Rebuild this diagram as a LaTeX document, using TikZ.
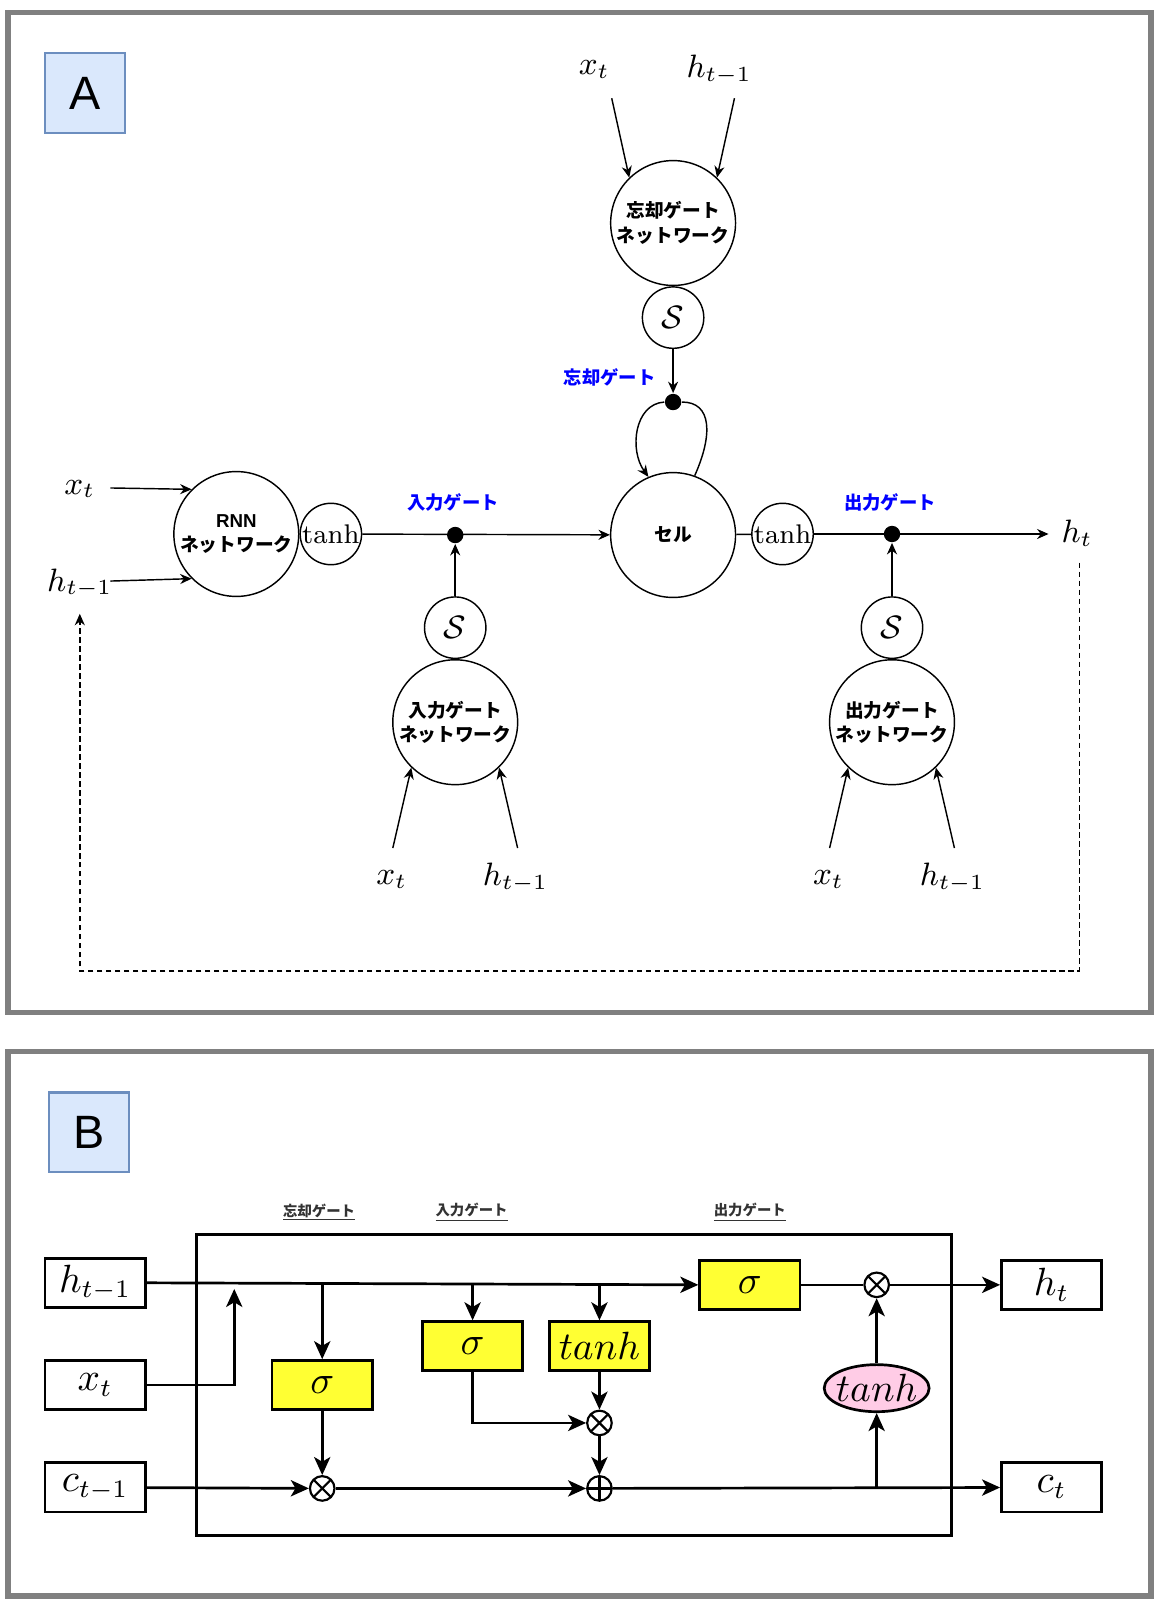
\documentclass[tikz,border=0pt]{standalone}
\usepackage{amsmath}
\usepackage{amssymb}
\usepackage{fontspec}
\setsansfont{Liberation Sans}
\newfontfamily\jpfont{Noto Sans CJK JP}
\usetikzlibrary{positioning, arrows.meta, shapes.geometric}
\definecolor{framegray}{RGB}{128,128,128}
\definecolor{tagfill}{RGB}{218,232,252}
\definecolor{tagline}{RGB}{108,142,191}
\definecolor{gateyellow}{RGB}{255,255,51}
\definecolor{tanhpink}{RGB}{255,204,230}
\definecolor{notegray}{RGB}{51,51,51}
\tikzset{
    x=0.01cm, y=-0.01cm, % one unit is one pixel of the reference
    frame/.style={draw=framegray, line width=1.5pt}, % outer frame of each panel
    tag/.style={draw=tagline, fill=tagfill, line width=0.6pt, minimum size=0.78cm, inner sep=0pt, font=\sffamily\fontsize{13}{15}\selectfont},
    net/.style={circle, draw, thin, minimum size=1.22cm, inner sep=0pt, align=center, font=\jpfont\bfseries\fontsize{5.2}{6.8}\selectfont}, % network circles
    act/.style={circle, draw, thin, minimum size=0.6cm, inner sep=0pt, font=\fontsize{9}{10}\selectfont}, % small activation circles
    junction/.style={circle, fill, minimum size=0.16cm, inner sep=0pt},
    gatename/.style={text=blue, font=\jpfont\bfseries\fontsize{5.1}{6}\selectfont},
    mathA/.style={font=\fontsize{8.8}{10}\selectfont},
    flowA/.style={-{Stealth[length=3.2pt,width=2.8pt]}, thin},
    feedback/.style={flowA, dash pattern=on 1.5pt off 1pt},
    % panel B
    cellbox/.style={draw, line width=0.75pt},
    iobox/.style={draw, line width=0.75pt, minimum width=0.98cm, minimum height=0.48cm, inner sep=0pt, font=\fontsize{10.5}{12}\selectfont},
    gatebox/.style={iobox, fill=gateyellow},
    note/.style={text=notegray, font=\jpfont\bfseries\fontsize{4}{5}\selectfont},
    mulop/.style={circle, draw, line width=0.6pt, minimum size=0.24cm, inner sep=0pt,
        path picture={\draw[line width=0.6pt] (path picture bounding box.south west) -- (path picture bounding box.north east)
            (path picture bounding box.north west) -- (path picture bounding box.south east);}},
    addop/.style={circle, draw, line width=0.6pt, minimum size=0.24cm, inner sep=0pt,
        path picture={\draw[line width=0.6pt] (path picture bounding box.north) -- (path picture bounding box.south)
            (path picture bounding box.west) -- (path picture bounding box.east);}},
    flowB/.style={-{Stealth[length=5pt,width=4.5pt,inset=1.3pt]}, line width=0.75pt},
}

\begin{document}
\begin{tikzpicture}
\useasboundingbox (0,0) rectangle (1136,1568);

% ---------- panel A ----------
\draw[frame] (8,12) rectangle (1125,990);
\node[tag] (tagA) at (83,91) {A};

% forget gate
\node[mathA] (fx) at (581,68) {$x_t$};
\node[mathA] (fh) at (703,68) {$h_{t-1}$};
\node[net] (fnet) at (658,218) {忘却ゲート\\ネットワーク};
\node[act, below=0pt of fnet] (fs) {$\mathcal{S}$};
\node[junction] (fdot) at (658,393) {};
\node[gatename] (fname) at (596,369) {忘却ゲート};
\coordinate (fxa) at (598,96);
\coordinate (fha) at (718,96);
\draw[flowA] (fxa) -- (fnet.134);
\draw[flowA] (fha) -- (fnet.46);
\draw[flowA] (fs) -- (fdot);

% cell
\node[net] (cell) at (658,523) {セル};
\draw[flowA] (fdot.west) .. controls (620,395) and (615,440) .. (cell.113);
\draw[thin] (cell.70) .. controls (697,425) and (696,393) .. (fdot.east);

% RNN network and input gate
\node[mathA] (rx) at (78,478) {$x_t$};
\node[mathA] (rh) at (78,570) {$h_{t-1}$};
\node[net] (rnn) at (231,522) {{\sffamily RNN}\\ネットワーク};
\node[act, right=0pt of rnn, font=\fontsize{7.5}{9}\selectfont] (rtanh) {tanh};
\coordinate (rxa) at (108,477);
\coordinate (rha) at (108,568);
\draw[flowA] (rxa) -- (rnn.135);
\draw[flowA] (rha) -- (rnn.225);
\draw[flowA] (rtanh) -- (cell);
\node[junction] (idot) at (445,523) {};
\node[gatename] (iname) at (443,491) {入力ゲート};
\node[net] (inet) at (445,706) {入力ゲート\\ネットワーク};
\node[act, above=0pt of inet] (is) {$\mathcal{S}$};
\draw[flowA] (is) -- (idot);
\node[mathA] (ix) at (383,860) {$x_t$};
\node[mathA] (ih) at (504,858) {$h_{t-1}$};
\coordinate (ixa) at (384,829);
\coordinate (iha) at (506,829);
\draw[flowA] (ixa) -- (inet.226);
\draw[flowA] (iha) -- (inet.314);

% output gate
\node[act, font=\fontsize{7.5}{9}\selectfont] (ctanh) at (765,522) {tanh};
\draw[thin] (cell) -- (ctanh);
\coordinate (hto) at (1025,522);
\node[mathA] (ht) at (1053,521) {$h_t$};
\draw[flowA] (ctanh) -- (hto);
\node[junction] (odot) at (872,522) {};
\node[gatename] (oname) at (870,491) {出力ゲート};
\node[net] (onet) at (872,706) {出力ゲート\\ネットワーク};
\node[act, above=0pt of onet] (os) {$\mathcal{S}$};
\draw[flowA] (os) -- (odot);
\node[mathA] (ox) at (810,860) {$x_t$};
\node[mathA] (oh) at (931,858) {$h_{t-1}$};
\coordinate (oxa) at (811,829);
\coordinate (oha) at (933,829);
\draw[flowA] (oxa) -- (onet.226);
\draw[flowA] (oha) -- (onet.314);

% feedback of h_t
\coordinate (fbs) at (1055,550);
\coordinate (fbc) at (1055,949);
\coordinate (fbe) at (78,600);
\draw[feedback] (fbs) -- (fbc) -| (fbe);

% ---------- panel B ----------
\draw[frame] (8,1028) rectangle (1125,1560);
\node[tag] (tagB) at (87,1107) {B};
\draw[cellbox] (192,1207) rectangle (930,1501);
\node[note] (nf) at (312,1185) {\underline{忘却ゲート}};
\node[note] (ni) at (461,1185) {\underline{入力ゲート}};
\node[note] (no) at (733,1185) {\underline{出力ゲート}};

\node[iobox] (hin) at (93,1254) {$h_{t-1}$};
\node[iobox] (xin) at (93,1354) {$x_t$};
\node[iobox] (cin) at (93,1454) {$c_{t-1}$};
\node[iobox] (hout) at (1028,1256) {$h_t$};
\node[iobox] (cout) at (1028,1454) {$c_t$};

\node[gatebox] (fsig) at (315,1354) {$\sigma$};
\node[gatebox] (isig) at (462,1316) {$\sigma$};
\node[gatebox, font=\fontsize{10.8}{12}\selectfont] (itanh) at (586,1316) {$tanh$};
\node[gatebox] (osig) at (733,1256) {$\sigma$};
\node[ellipse, draw, line width=0.75pt, fill=tanhpink, minimum width=1.0cm, minimum height=0.46cm, inner xsep=-1pt, inner ysep=0pt, font=\fontsize{10.8}{12}\selectfont] (otanh) at (857,1357) {$tanh$};

\node[mulop] (fmul) at (315,1455) {};
\node[mulop] (imul) at (586,1391) {};
\node[addop] (add) at (586,1455) {};
\node[mulop] (omul) at (857,1256) {};

\coordinate (xup) at (229,1260);
\coordinate (tap) at (857,1455);
\draw[flowB] (hin.east) -- (osig.west);
\draw[flowB] (xin.east) -| (xup);
\draw[flowB] (fsig |- hin) -- (fsig);
\draw[flowB] (isig |- hin) -- (isig);
\draw[flowB] (itanh |- hin) -- (itanh);
\draw[flowB] (fsig) -- (fmul);
\draw[flowB] (cin) -- (fmul);
\draw[flowB] (fmul) -- (add);
\draw[flowB] (isig) |- (imul);
\draw[flowB] (itanh) -- (imul);
\draw[flowB] (imul) -- (add);
\draw[flowB] (add) -- (cout);
\draw[flowB] (tap) -- (otanh);
\draw[flowB] (otanh) -- (omul);
\draw[line width=0.75pt] (osig) -- (omul);
\draw[flowB] (omul) -- (hout);
\end{tikzpicture}
\end{document}
